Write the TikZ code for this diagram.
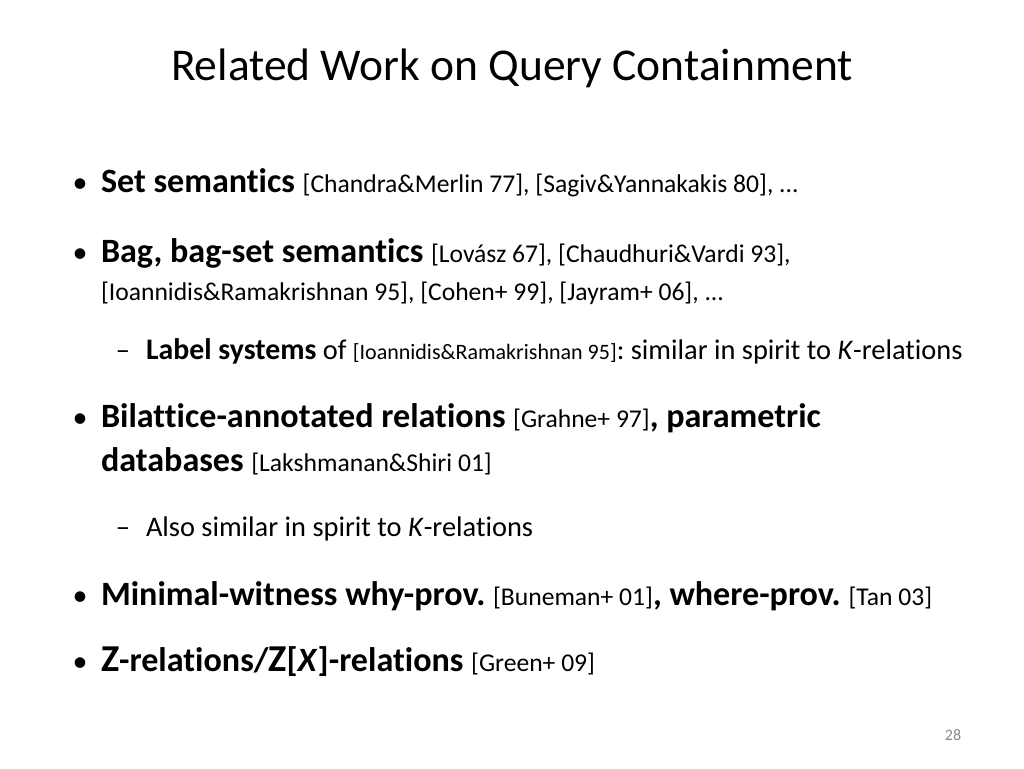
\documentclass[tikz,border=0pt]{standalone}
\usepackage{fontspec}
\setmainfont{Carlito}[Ligatures=NoCommon]
\newcommand\myref[1]{{\fontsize{25.6}{30}\selectfont #1}}
\newcommand\myrefs[1]{{\fontsize{22}{26}\selectfont #1}}
\definecolor{pagegray}{HTML}{898989}
\frenchspacing
\begin{document}
\begin{tikzpicture}[x=1pt,y=-1pt,
  txt/.style={anchor=base west, inner sep=0pt, outer sep=0pt, font=\fontsize{34.1}{40}\selectfont},
  subtxt/.style={anchor=base west, inner sep=0pt, outer sep=0pt, font=\fontsize{28.4}{34}\selectfont},
  bul/.style={anchor=base, inner sep=0pt, font=\fontsize{30}{34}\selectfont},
  dsh/.style={anchor=base, inner sep=0pt, font=\fontsize{28.4}{34}\selectfont}]
\useasboundingbox[fill=white] (0,0) rectangle (1024,768);
\node[anchor=base, inner sep=0pt, font=\fontsize{45.5}{52}\selectfont] (title) at (512,80) {Related Work on Query Containment};

\node[bul] (b1) at (80,192) {•};
\node[txt] (l1) at (101,192) {\textbf{Set semantics} \myref{[Chandra\&Merlin 77], [Sagiv\&Yannakakis 80], ...}};

\node[bul] (b2) at (80,262) {•};
\node[txt] (l2) at (101,262) {\textbf{Bag, bag-set semantics} \myref{[Lovász 67], [Chaudhuri\&Vardi 93],}};
\node[txt] (l2b) at (101,300) {\myref{[Ioannidis\&Ramakrishnan 95], [Cohen+ 99], [Jayram+ 06], ...}};

\node[dsh] (d1) at (123,359) {–};
\node[subtxt] (l3) at (146,359) {{\fontsize{29.8}{34}\selectfont\textbf{Label systems}} of \myrefs{[Ioannidis\&Ramakrishnan 95]}: similar in spirit to \textit{K}-relations};

\node[bul] (b3) at (80,427) {•};
\node[txt] (l4) at (101,427) {\textbf{Bilattice-annotated relations} \myref{[Grahne+ 97]}\textbf{, parametric}};
\node[txt] (l4b) at (101,471) {\textbf{databases} \myref{[Lakshmanan\&Shiri 01]}};

\node[dsh] (d2) at (123,536) {–};
\node[subtxt] (l5) at (146,536) {Also similar in spirit to \textit{K}-relations};

\node[bul] (b4) at (80,605) {•};
\node[txt] (l6) at (101,605) {\textbf{Minimal-witness why-prov.} \myref{[Buneman+ 01]}\textbf{, where-prov.} \myref{[Tan 03]}};

\node[bul] (b5) at (80,671) {•};
\node[txt] (l7) at (101,671) {\textbf{{\fontsize{38}{42}\selectfont Z}-relations/{\fontsize{38}{42}\selectfont Z}[\textit{X}]-relations} \myref{[Green+ 09]}};

\node[anchor=base, inner sep=0pt, font=\fontsize{16}{19}\selectfont, text=pagegray] (pg) at (953,740) {28};
\end{tikzpicture}
\end{document}
